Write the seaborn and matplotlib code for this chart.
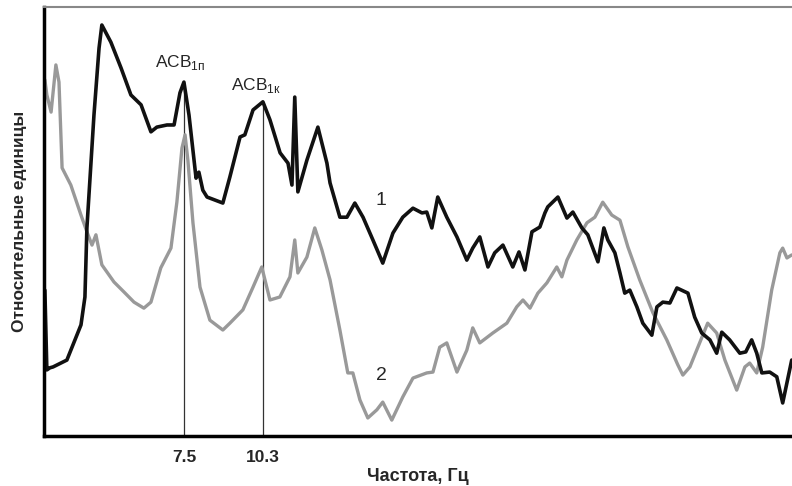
import numpy as np
import pandas as pd
import matplotlib
matplotlib.use('Agg')
import matplotlib.pyplot as plt
import seaborn as sns

# curve 1 (black): frequency, Hz / relative units
freq_1 = [2.57, 2.64, 2.75, 2.86, 3.35, 3.85, 3.99, 4.06, 4.31, 4.49, 4.59, 4.91, 5.27, 5.62,
          5.98, 6.33, 6.54, 6.90, 7.15, 7.36, 7.50, 7.68, 7.93, 8.03, 8.17, 8.32, 8.60, 8.88,
          9.13, 9.49, 9.66, 9.95, 10.30, 10.55, 10.91, 11.19, 11.33, 11.43, 11.54, 11.86,
          12.25, 12.57, 12.68, 13.03, 13.28, 13.56, 13.85, 14.20, 14.55, 14.91, 15.26, 15.62,
          15.94, 16.11, 16.29, 16.50, 16.82, 17.18, 17.53, 17.74, 17.99, 18.28, 18.52, 18.81,
          19.16, 19.38, 19.59, 19.84, 20.12, 20.30, 20.40, 20.76, 21.08, 21.29, 21.61, 21.82,
          22.18, 22.39, 22.53, 22.78, 22.96, 23.13, 23.31, 23.56, 23.77, 24.09, 24.27, 24.48,
          24.73, 24.98, 25.37, 25.61, 25.86, 26.15, 26.39, 26.57, 26.85, 27.21, 27.42, 27.63,
          27.81, 27.99, 28.27, 28.52, 28.73, 29.05]
rel_1 = [34.0, 15.4, 15.9, 16.1, 17.7, 25.9, 32.4, 48.5, 74.8, 90.4, 95.8, 91.8, 85.8, 79.5,
         77.2, 70.9, 72.0, 72.5, 72.5, 80.0, 82.5, 74.8, 60.1, 61.5, 57.3, 55.7, 55.0, 54.3,
         60.4, 69.7, 70.2, 76.0, 77.9, 73.7, 66.0, 63.6, 58.5, 79.0, 56.9, 64.3,
         72.0, 63.6, 59.0, 51.0, 51.0, 54.3, 51.0, 45.7, 40.3, 47.3, 51.0, 53.1,
         52.0, 52.2, 48.5, 55.7, 51.0, 46.4, 41.0, 43.8, 46.4, 39.4, 42.7, 44.5,
         39.4, 42.9, 38.7, 47.6, 48.7, 52.0, 53.4, 55.7, 50.8, 52.2, 48.5, 46.9,
         40.6, 48.5, 45.7, 42.7, 38.0, 33.3, 34.0, 30.1, 26.3, 23.5, 30.1, 31.2,
         31.0, 34.5, 33.3, 27.7, 24.0, 22.4, 19.3, 24.2, 22.4, 19.3, 19.6, 22.4,
         19.3, 14.7, 14.9, 13.8, 7.7, 17.7]

# curve 2 (gray)
freq_2 = [2.57, 2.64, 2.79, 2.96, 3.07, 3.18, 3.49, 3.85, 4.06, 4.24, 4.38, 4.59, 5.02, 5.37,
          5.73, 6.08, 6.33, 6.68, 7.04, 7.25, 7.43, 7.54, 7.64, 7.82, 8.07, 8.42, 8.88, 9.13,
          9.59, 9.95, 10.26, 10.55, 10.90, 11.26, 11.43, 11.54, 11.86, 12.14, 12.39, 12.68,
          13.03, 13.31, 13.49, 13.74, 14.02, 14.34, 14.55, 14.87, 15.26, 15.62, 16.11, 16.33,
          16.57, 16.82, 17.18, 17.53, 17.74, 17.99, 18.45, 18.95, 19.30, 19.52, 19.77, 20.05,
          20.37, 20.72, 20.90, 21.08, 21.43, 21.79, 22.07, 22.35, 22.67, 22.96, 23.24, 23.66,
          24.13, 24.62, 25.01, 25.19, 25.44, 25.68, 26.07, 26.39, 26.68, 27.10, 27.39, 27.56,
          27.81, 28.02, 28.34, 28.63, 28.73, 28.88, 29.05]
rel_2 = [83.0, 79.5, 75.5, 86.5, 82.5, 62.5, 58.5, 51.5, 47.6, 44.5, 46.9, 39.9, 35.9, 33.6,
         31.2, 29.8, 31.2, 39.2, 43.8, 54.5, 67.1, 70.2, 64.3, 49.7, 34.7, 27.0, 24.7, 26.3,
         29.4, 34.7, 39.4, 31.7, 32.4, 37.1, 45.7, 38.0, 41.7, 48.5, 43.4, 36.4,
         24.7, 14.7, 14.7, 8.4, 4.2, 6.1, 7.9, 3.7, 9.1, 13.5, 14.7, 14.9,
         20.7, 21.7, 14.9, 20.0, 25.2, 21.7, 24.0, 26.3, 30.1, 31.7, 29.8, 33.3,
         35.7, 39.4, 37.1, 41.0, 45.7, 49.7, 51.0, 54.5, 51.5, 50.3, 44.1, 36.4,
         28.7, 22.4, 16.6, 14.2, 16.1, 20.0, 26.3, 24.0, 17.7, 10.7, 16.1, 17.0,
         14.7, 20.7, 34.0, 42.7, 43.8, 41.5, 42.2]

peak_freqs = [7.5, 10.3]
peak_labels = ['АСВ$_{\\mathregular{1п}}$', 'АСВ$_{\\mathregular{1к}}$']

sns.set_style('white')
plt.rcParams['font.family'] = ['Liberation Sans', 'DejaVu Sans']
plt.rcParams['mathtext.fontset'] = 'custom'
plt.rcParams['mathtext.rm'] = 'Liberation Sans'

narrow = ['Liberation Sans Narrow', 'Liberation Sans', 'DejaVu Sans']

df1 = pd.DataFrame({'freq': freq_1, 'rel': rel_1})
df2 = pd.DataFrame({'freq': freq_2, 'rel': rel_2})

fig = plt.figure(figsize=(7.92, 4.86), dpi=100)
ax = fig.add_axes([0.0556, 0.1029, 0.9444, 0.8827])

sns.lineplot(data=df2, x='freq', y='rel', color='#999999', linewidth=2.4, ax=ax, sort=False)
sns.lineplot(data=df1, x='freq', y='rel', color='#111111', linewidth=2.6, ax=ax, sort=False)

# thin markers from the axis up to the peaks of curve 1
peak_tops = np.interp(peak_freqs, freq_1, rel_1)
ax.vlines(peak_freqs, 0, peak_tops, color='#333333', linewidth=0.9, zorder=1)

ax.text(7.36, 87.0, peak_labels[0], ha='center', va='center', fontsize=12.5)
ax.text(10.05, 81.6, peak_labels[1], ha='center', va='center', fontsize=12.5)
ax.text(14.48, 55.0, '1', ha='center', va='center', fontsize=14)
ax.text(14.52, 14.2, '2', ha='center', va='center', fontsize=14)

ax.set_xlim(2.54, 29.06)
ax.set_ylim(0, 100)
ax.set_xticks(peak_freqs)
ax.set_xticklabels(['7.5', '10.3'], fontsize=12.5, fontweight='bold', family=narrow)
ax.set_yticks([])
ax.tick_params(axis='x', direction='out', length=4, width=0.9, color='#333333', pad=6)
ax.set_xlabel('Частота, Гц', fontsize=13, fontweight='bold', family=narrow, labelpad=2)
ax.set_ylabel('Относительные единицы', fontsize=12.5, fontweight='bold', family=narrow, labelpad=12)

ax.spines['left'].set_linewidth(2.5)
ax.spines['left'].set_color('black')
ax.spines['bottom'].set_linewidth(2.5)
ax.spines['bottom'].set_color('black')
ax.spines['top'].set_linewidth(1.5)
ax.spines['top'].set_color('#888888')
ax.spines['right'].set_visible(False)

fig.savefig('out.png', dpi=100)
